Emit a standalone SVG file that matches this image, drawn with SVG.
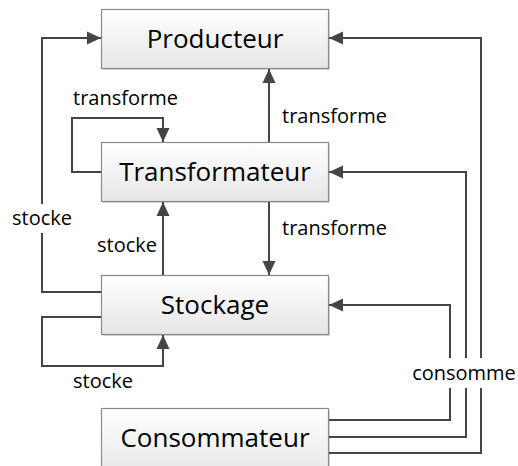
<svg xmlns="http://www.w3.org/2000/svg" width="518" height="466" viewBox="0 0 518 466">
<style>
.box{fill:url(#g);stroke:#8a8a8a;stroke-width:1.2}
.sh{fill:#d8d8d8}
.nt{font-family:"Open Sans","Liberation Sans",sans-serif;font-size:26px;fill:#000;text-anchor:middle}
.lb{font-family:"Open Sans","Liberation Sans",sans-serif;font-size:20px;fill:#000}
.c{fill:none;stroke:#454545;stroke-width:2;marker-end:url(#a)}
.bg{fill:#fff}
</style>
<defs>
<linearGradient id="g" x1="0" y1="0" x2="0" y2="1">
<stop offset="0" stop-color="#ffffff"/>
<stop offset="1" stop-color="#e6e6e6"/>
</linearGradient>
<marker id="a" markerUnits="userSpaceOnUse" markerWidth="14" markerHeight="14" viewBox="0 0 14 14" refX="14" refY="7" orient="auto">
<path d="M0,0.5 L14,7 L0,13.5 z" fill="#454545"/>
</marker>
</defs>
<rect width="518" height="466" fill="#fff"/>
<g id="producteur">
<rect class="sh" x="103" y="11" width="227" height="59"/>
<rect class="box" x="101.5" y="9.5" width="227" height="59"/>
<text class="nt" x="215" y="48">Producteur</text>
</g>
<g id="transformateur">
<rect class="sh" x="103" y="144" width="227" height="59"/>
<rect class="box" x="101.5" y="142.5" width="227" height="59"/>
<text class="nt" x="215" y="181">Transformateur</text>
</g>
<g id="stockage">
<rect class="sh" x="103" y="277" width="227" height="59"/>
<rect class="box" x="101.5" y="275.5" width="227" height="59"/>
<text class="nt" x="215" y="314">Stockage</text>
</g>
<g id="consommateur">
<rect class="sh" x="103" y="410" width="227" height="70"/>
<rect class="box" x="101.5" y="408.5" width="227" height="70"/>
<text class="nt" x="215" y="447">Consommateur</text>
</g>
<g id="connectors">
<path class="c" d="M101,292 H42 V38 H101"/>
<path class="c" d="M101,172 H72 V118 H163 V142"/>
<path class="c" d="M163,275 V202"/>
<path class="c" d="M101,317 H42 V366 H163 V335"/>
<path class="c" d="M269,142 V69"/>
<path class="c" d="M269,202 V275"/>
<path class="c" d="M329,420 H450 V305 H329"/>
<path class="c" d="M329,437 H466 V172 H329"/>
<path class="c" d="M329,453 H481 V38 H329"/>
<rect class="bg" x="10" y="204" width="64" height="29"/>
<rect class="bg" x="410" y="358" width="108" height="30"/>
<text class="lb" x="42" y="225" text-anchor="middle">stocke</text>
<text class="lb" x="73" y="105">transforme</text>
<text class="lb" x="157" y="252" text-anchor="end">stocke</text>
<text class="lb" x="73" y="388">stocke</text>
<text class="lb" x="282" y="123">transforme</text>
<text class="lb" x="282" y="235">transforme</text>
<text class="lb" x="464" y="380" text-anchor="middle">consomme</text>
</g>
</svg>
